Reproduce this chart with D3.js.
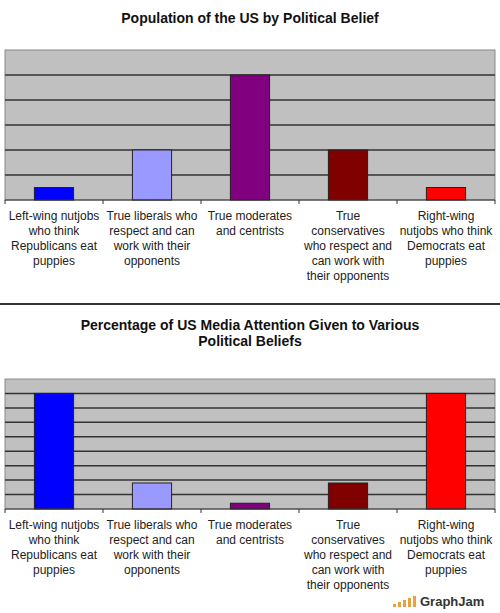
<!DOCTYPE html>
<html><head><meta charset="utf-8">
<script src="https://cdn.jsdelivr.net/npm/d3@7"></script>
<style>body{margin:0;background:#fff}text{font-family:"Liberation Sans",Arial,sans-serif}</style>
</head><body><svg id="c" width="500" height="613"></svg>
<script>
var categories = [
  ["Left-wing nutjobs", "who think", "Republicans eat", "puppies"],
  ["True liberals who", "respect and can", "work with their", "opponents"],
  ["True moderates", "and centrists"],
  ["True", "conservatives", "who respect and", "can work with", "their opponents"],
  ["Right-wing", "nutjobs who think", "Democrats eat", "puppies"]
];
var colors = ["#0000ff", "#9999ff", "#800080", "#800000", "#ff0000"];
var population = [0.5, 2, 5, 2, 0.5];
var media = [8, 1.8, 0.4, 1.8, 8];

var svg = d3.select("#c");
svg.append("rect").attr("width", 500).attr("height", 613).attr("fill", "#fff");

function drawChart(titleLines, values, maxY, ticks, top, bottom, titleY) {
  var x = d3.scaleBand().domain(d3.range(5)).range([5, 495]);
  var y = d3.scaleLinear().domain([0, maxY]).range([bottom, top]);
  var g = svg.append("g");
  titleLines.forEach(function(t, i) {
    g.append("text").attr("x", 250).attr("y", titleY + i * 16).attr("text-anchor", "middle")
      .attr("font-size", 14).attr("font-weight", "bold").attr("fill", "#111").text(t);
  });
  g.append("rect").attr("x", 5).attr("y", top).attr("width", 490).attr("height", bottom - top)
    .attr("fill", "#c0c0c0").attr("stroke", "#888");
  g.selectAll(".grid").data(d3.range(1, ticks)).enter().append("line")
    .attr("x1", 5).attr("x2", 495)
    .attr("y1", function(d) { return y(d * maxY / ticks); })
    .attr("y2", function(d) { return y(d * maxY / ticks); })
    .attr("stroke", "#333").attr("stroke-width", 1.5);
  g.selectAll(".bar").data(values).enter().append("rect")
    .attr("x", function(d, i) { return x(i) + x.bandwidth() * 0.3; })
    .attr("width", x.bandwidth() * 0.4)
    .attr("y", function(d) { return y(d); })
    .attr("height", function(d) { return bottom - y(d); })
    .attr("fill", function(d, i) { return colors[i]; })
    .attr("stroke", "#222");
  g.append("line").attr("x1", 5).attr("x2", 495).attr("y1", bottom).attr("y2", bottom)
    .attr("stroke", "#333");
  d3.range(6).forEach(function(i) {
    var xx = i < 5 ? x(i) : 495;
    g.append("line").attr("x1", xx).attr("x2", xx).attr("y1", bottom).attr("y2", bottom + 4).attr("stroke", "#333");
  });
  categories.forEach(function(lines, i) {
    var t = g.append("text").attr("text-anchor", "middle").attr("font-size", 12).attr("fill", "#222");
    lines.forEach(function(l, j) {
      t.append("tspan").attr("x", x(i) + x.bandwidth() / 2).attr("y", bottom + 20 + j * 15).text(l);
    });
  });
}

drawChart(["Population of the US by Political Belief"], population, 6, 6, 50, 200, 23);
svg.append("line").attr("x1", 0).attr("x2", 500).attr("y1", 304).attr("y2", 304).attr("stroke", "#333").attr("stroke-width", 2);
drawChart(["Percentage of US Media Attention Given to Various", "Political Beliefs"], media, 9, 9, 379, 509, 330);

// logo
var logo = svg.append("g");
[3, 5, 7, 9, 11].forEach(function(h, i) {
  logo.append("rect").attr("x", 393 + i * 5).attr("y", 607 - h).attr("width", 3).attr("height", h).attr("fill", "#e8a040");
});
logo.append("text").attr("x", 420).attr("y", 606).attr("font-size", 13).attr("font-weight", "bold").attr("fill", "#333").text("GraphJam");
</script></body></html>
